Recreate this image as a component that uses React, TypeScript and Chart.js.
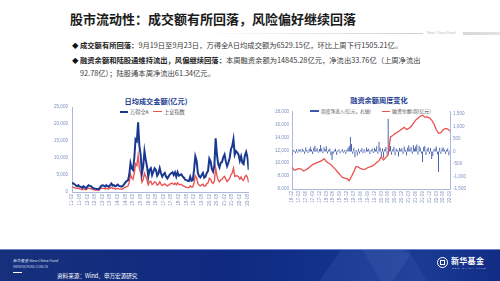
import React, { useEffect, useRef } from 'react';
import { Chart, registerables } from 'chart.js';
Chart.register(...registerables);

// ---------- Left chart: 日均成交金额(亿元), monthly 2011-02 .. 2022-09 ----------
const turnoverAllA = [
  2700, 2500, 2300, 1900, 1700, 2000, 1600, 1500, 1200, 1700, 1400,
  1100, 1600, 2000, 1800, 1700, 1300, 1100, 1000, 900, 900, 800, 1300,
  1800, 2000, 1900, 1600, 2000, 1700, 1500, 2000, 2500, 1900, 2000, 1700,
  1900, 2200, 1800, 1700, 1600, 1800, 2300, 2800, 3200, 3400, 5000, 8500,
  7000, 6500, 10000, 15500, 15000, 20500, 13500, 11000, 5500, 7500, 12000, 9500,
  7500, 4500, 6500, 7000, 5000, 6000, 7000, 6500, 4800, 5500, 7000, 5500,
  4500, 5200, 5600, 4500, 4000, 4600, 5200, 5500, 5800, 5000, 5800, 4500,
  5800, 4800, 5000, 5200, 4600, 4200, 3600, 3500, 3300, 3200, 4500, 3300,
  3500, 6500, 10500, 9200, 5600, 4600, 4300, 5000, 5600, 4200, 4500, 5600,
  6200, 9800, 9000, 6800, 6000, 7800, 15800, 11000, 8200, 7200, 8600, 8800,
  10200, 11000, 9000, 7600, 8600, 10000, 12500, 13500, 15500, 11000, 12000, 11600,
  11000, 9200, 10500, 8600, 8200, 10800, 11800, 10200, 6500,
];
const turnoverSH = [
  1500, 1400, 1300, 1100, 1000, 1150, 900, 850, 700, 950, 800,
  650, 950, 1150, 1000, 950, 750, 650, 600, 550, 550, 500, 900,
  1100, 1150, 1050, 900, 1100, 950, 850, 1100, 1400, 1050, 1100, 900,
  950, 1050, 900, 850, 800, 900, 1200, 1400, 1600, 1700, 2800, 5200,
  4200, 3700, 5600, 8300, 7800, 10800, 7000, 5600, 2900, 3700, 5500, 4600,
  3600, 2100, 3000, 3200, 2200, 2500, 3000, 2800, 2000, 2300, 3000, 2300,
  1900, 2200, 2400, 2000, 1800, 2000, 2300, 2500, 2600, 2200, 2600, 2100,
  2700, 2200, 2200, 2200, 1900, 1700, 1500, 1400, 1300, 1300, 1800, 1400,
  1500, 2800, 4800, 4200, 2500, 2000, 1800, 2100, 2300, 1700, 1800, 2400,
  2700, 4000, 3800, 2800, 2500, 3200, 7000, 4800, 3500, 3000, 3600, 3700,
  4300, 4600, 3800, 3100, 3500, 4000, 5000, 5600, 7000, 4600, 4800, 4700,
  4500, 3800, 4400, 3600, 3400, 4500, 4900, 4300, 2800,
];
const turnoverTicks = [
  '11-02', '11-08', '12-02', '12-08', '13-02', '13-08', '14-02', '14-08',
  '15-02', '15-08', '16-02', '16-08', '17-02', '17-08', '18-02', '18-08',
  '19-02', '19-08', '20-02', '20-08', '21-02', '21-08', '22-02', '22-08',
];
const turnoverYTicks = [0, 5000, 10000, 15000, 20000, 25000];
const TURNOVER_TICK_EVERY = 6; // months per tick label

// ---------- Right chart: 融资余额周度变化, 2016-12 .. 2022-09 ----------
const marginBalance = [
  9370, 8900, 9050, 9150, 9100, 8800, 8950, 9200, 9500, 9800,
  9950, 10100, 10250, 10400, 10700, 10250, 10000, 9800, 9400, 9050,
  8600, 8200, 7800, 7700, 7600, 7300, 7950, 8700, 9500, 9400,
  9150, 9050, 9100, 9300, 9450, 9550, 9800, 10100, 10400, 11000,
  10500, 10900, 11300, 14100, 14300, 14600, 14800, 15050, 15300, 15570,
  15250, 15400, 15700, 16200, 16700, 17000, 17300, 17450, 17150, 17200,
  17050, 16700, 16100, 15200, 14650, 14750, 15200, 15400, 15300, 15000,
];
const marginWeekly = [
  -150, 60, 40, -70, 90, -50, 70, 100, -30, 110, 50, -90,
  160, 60, -60, 100, 190, 80, -100, 150, 230, 70, 130, -50,
  100, 260, 120, -60, 170, 90, 210, -80, 70, 120, -150, -340,
  -90, 60, 110, -130, 40, 80, -70, 30, 90, -50, 60, -100,
  80, 150, 220, 590, 300, -90, 150, -230, 60, -160, 110, -80,
  50, 130, -70, 90, -40, 160, 70, 110, -100, 60, 120, -60,
  140, 80, 210, -90, 390, 150, -180, 120, -250, 100, 180, -120,
  1320, 160, 220, -130, 90, 190, -150, 120, 60, -200, 140, 80,
  130, -100, 200, 70, -160, 150, 250, 90, 180, -90, 260, 120,
  200, 280, -120, 230, 150, -80, -420, 180, 220, -140, 110, 160,
  -100, 140, -300, -180, 90, 120, 200, -120, -820, 150, -90, 120,
  170, 80, -100, 60, 120, -150, 40,
];
const marginTicks = [
  '16-12', '17-03', '17-06', '17-09', '17-12', '18-03', '18-06', '18-09',
  '18-12', '19-03', '19-06', '19-09', '19-12', '20-03', '20-06', '20-09',
  '20-12', '21-03', '21-06', '21-09', '21-12', '22-03', '22-06', '22-09',
];
const balanceYTicks = [6000, 8000, 10000, 12000, 14000, 16000, 18000];
const weeklyYTicks = [-1500, -1000, -500, 0, 500, 1000, 1500];
const MARGIN_TICK_EVERY = 3; // months per tick label
const WEEKLY_STEP = 0.5; // bars per half month

const tickFont = { family: '"Liberation Sans", Arial, sans-serif', size: 4.6 };
const tickColor = '#7d8fbe';
const axisColor = '#a9b8dc';
const fmt = (v: number) => Number(v).toLocaleString('en-US');
const setTicks = (vals: number[]) => (s: any) => { s.ticks = vals.map((value) => ({ value })); };

function TurnoverChart() {
  const ref = useRef<HTMLCanvasElement | null>(null);
  useEffect(() => {
    if (!ref.current) return;
    const chart = new Chart(ref.current, {
      type: 'line',
      data: {
        datasets: [
          {
            label: '万得全A',
            data: turnoverAllA.map((y, i) => ({ x: i, y })),
            borderColor: '#1a3890',
            borderWidth: 2,
            pointRadius: 0,
          },
          {
            label: '上证指数',
            data: turnoverSH.map((y, i) => ({ x: i, y })),
            borderColor: '#ec5556',
            borderWidth: 1.4,
            pointRadius: 0,
          },
        ],
      },
      options: {
        responsive: false,
        animation: false,
        layout: { padding: { top: 7, right: 5, left: 0, bottom: 0 } },
        plugins: { legend: { display: false }, tooltip: { enabled: false }, title: { display: false } },
        scales: {
          x: {
            type: 'linear',
            min: 0,
            max: turnoverAllA.length - 1,
            grid: { display: false, drawTicks: false },
            border: { display: true, color: axisColor, width: 1 },
            afterBuildTicks: setTicks(turnoverTicks.map((_, k) => k * TURNOVER_TICK_EVERY)),
            afterFit: (s: any) => { s.height = 18; },
            ticks: {
              autoSkip: false,
              minRotation: 90,
              maxRotation: 90,
              padding: 2,
              font: tickFont,
              color: tickColor,
              callback: (v: any) => turnoverTicks[Math.round(v / TURNOVER_TICK_EVERY)] ?? '',
            },
          },
          y: {
            min: 0,
            max: 25000,
            grid: { display: false, drawTicks: false },
            border: { display: true, color: axisColor, width: 1 },
            afterBuildTicks: setTicks(turnoverYTicks),
            afterFit: (s: any) => { s.width = 32; },
            ticks: { padding: 4, font: tickFont, color: tickColor, callback: (v: any) => fmt(v) },
          },
        },
      },
    } as any);
    return () => chart.destroy();
  }, []);
  return <canvas ref={ref} width={215} height={110} style={{ width: 215, height: 110, display: 'block' }} />;
}

function MarginChart() {
  const ref = useRef<HTMLCanvasElement | null>(null);
  useEffect(() => {
    if (!ref.current) return;
    const chart = new Chart(ref.current, {
      type: 'bar',
      data: {
        datasets: [
          {
            type: 'line',
            label: '融资余额(亿元)',
            data: marginBalance.map((y, i) => ({ x: i, y })),
            borderColor: '#e8514f',
            borderWidth: 1.3,
            pointRadius: 0,
            yAxisID: 'y',
            order: 0,
          },
          {
            type: 'bar',
            label: '周度净流入(亿元，右轴)',
            data: marginWeekly.map((y, i) => ({ x: i * WEEKLY_STEP, y })),
            backgroundColor: '#3b58a8',
            barPercentage: 0.8,
            categoryPercentage: 1,
            yAxisID: 'y1',
            order: 1,
          },
        ],
      },
      options: {
        responsive: false,
        animation: false,
        layout: { padding: { top: 11.7, right: 22, left: 0, bottom: 0 } },
        plugins: { legend: { display: false }, tooltip: { enabled: false }, title: { display: false } },
        scales: {
          x: {
            type: 'linear',
            offset: false,
            min: 0,
            max: marginBalance.length - 1,
            grid: { display: false, drawTicks: false },
            border: { display: true, color: axisColor, width: 1 },
            afterBuildTicks: setTicks(marginTicks.map((_, k) => k * MARGIN_TICK_EVERY)),
            afterFit: (s: any) => { s.height = 21; },
            ticks: {
              autoSkip: false,
              minRotation: 90,
              maxRotation: 90,
              padding: 2,
              font: tickFont,
              color: tickColor,
              callback: (v: any) => marginTicks[Math.round(v / MARGIN_TICK_EVERY)] ?? '',
            },
          },
          y: {
            position: 'left',
            min: 6000,
            max: 18000,
            grid: { display: false, drawTicks: false },
            border: { display: true, color: axisColor, width: 1 },
            afterBuildTicks: setTicks(balanceYTicks),
            afterFit: (s: any) => { s.width = 27; },
            ticks: { padding: 3, font: tickFont, color: tickColor, callback: (v: any) => fmt(v) },
          },
          y1: {
            position: 'right',
            min: -1500,
            max: 1600,
            grid: { display: false, drawTicks: false },
            border: { display: true, color: axisColor, width: 1 },
            afterBuildTicks: setTicks(weeklyYTicks),
            afterFit: (s: any) => { s.width = 18; },
            ticks: { padding: 3, font: tickFont, color: tickColor, callback: (v: any) => fmt(v) },
          },
        },
      },
    } as any);
    return () => chart.destroy();
  }, []);
  return <canvas ref={ref} width={225} height={110} style={{ width: 225, height: 110, display: 'block' }} />;
}

const cjk = '"Noto Sans CJK SC", "Noto Sans", sans-serif';

const abs = (left: number, top: number, extra: React.CSSProperties = {}): React.CSSProperties => ({
  position: 'absolute', left, top, ...extra,
});

export default function App() {
  const bodyText: React.CSSProperties = { fontSize: 7.3, color: '#3a3a3a', whiteSpace: 'nowrap', lineHeight: '10px', fontFamily: cjk };
  const legendText: React.CSSProperties = { fontSize: 5.2, color: '#555', whiteSpace: 'nowrap', lineHeight: '8px', fontFamily: cjk };
  return (
    <div style={{ position: 'fixed', left: 0, top: 0, width: 500, height: 281, background: '#fff', overflow: 'hidden', fontFamily: cjk }}>
      {/* Title */}
      <div style={abs(70, 10, { fontSize: 13, fontWeight: 700, color: '#1b1b1b', lineHeight: '18px', whiteSpace: 'nowrap' })}>
        股市流动性：成交额有所回落，风险偏好继续回落
      </div>
      {/* Title rule */}
      <div style={abs(200, 33, { width: 223, height: 1, background: 'linear-gradient(90deg, rgba(200,200,200,0), #cfcfcf)' })} />
      <div style={abs(427, 30.5, { fontSize: 3.8, color: '#bdbdbd', whiteSpace: 'nowrap', lineHeight: '5px', fontFamily: '"Liberation Sans", Arial' })}>New China Fund</div>
      <div style={abs(463, 32, { width: 37, height: 3, background: 'linear-gradient(90deg, #d6d6d6, #e4e4e4)' })} />

      {/* Bullets */}
      <div style={abs(72, 40, { fontSize: 6.5, lineHeight: '10px', color: '#111' })}>◆</div>
      <div style={abs(80, 40, bodyText)}>
        <b style={{ color: '#222' }}>成交额有所回落：</b>9月19日至9月23日，万得全A日均成交额为6529.15亿，环比上周下行1505.21亿。
      </div>
      <div style={abs(72, 54.5, { fontSize: 6.5, lineHeight: '10px', color: '#111' })}>◆</div>
      <div style={abs(80, 54.5, bodyText)}>
        <b style={{ color: '#222' }}>融资余额和陆股通维持流出，风偏继续回落：</b>本周融资余额为14845.28亿元，净流出33.76亿（上周净流出
      </div>
      <div style={abs(80, 68, bodyText)}>92.78亿）；陆股通本周净流出61.34亿元。</div>

      {/* Left chart */}
      <div style={abs(100, 95, { width: 112, textAlign: 'center', fontSize: 7.2, fontWeight: 700, color: '#1d3c8f', lineHeight: '12px', whiteSpace: 'nowrap' })}>
        日均成交金额(亿元)
      </div>
      <div style={abs(120, 111, { width: 8, height: 1.6, background: '#1a3890' })} />
      <div style={abs(130, 107.6, legendText)}>万得全A</div>
      <div style={abs(153, 111, { width: 9, height: 1.4, background: '#ec5556' })} />
      <div style={abs(164, 107.6, legendText)}>上证指数</div>
      <div style={abs(40, 100)}>
        <TurnoverChart />
      </div>

      {/* Right chart */}
      <div style={abs(329, 94, { width: 100, textAlign: 'center', fontSize: 7.2, fontWeight: 700, color: '#1d3c8f', lineHeight: '12px', whiteSpace: 'nowrap' })}>
        融资余额周度变化
      </div>
      <div style={abs(310, 110, { width: 9, height: 2.4, background: '#3b58a8' })} />
      <div style={abs(321, 107.4, { ...legendText, fontSize: 4.7 })}>周度净流入(亿元，右轴)</div>
      <div style={abs(381.5, 110.6, { width: 8.5, height: 1.3, background: '#e8514f' })} />
      <div style={abs(392, 107.4, { ...legendText, fontSize: 4.9 })}>融资余额:周(亿元)</div>
      <div style={abs(265, 100)}>
        <MarginChart />
      </div>

      {/* Footer */}
      <div style={abs(0, 249, { width: 500, height: 32, background: 'linear-gradient(90deg, #17307c 0%, #0f2a80 45%, #13338e 70%, #1a3a94 85%, #112c84 100%)', borderTop: '1px solid #6d84c8', boxSizing: 'border-box', overflow: 'hidden' })}>
        <div style={abs(330, -20, { width: 60, height: 90, background: 'rgba(120,150,220,0.12)', transform: 'rotate(35deg)' })} />
        <div style={abs(380, -20, { width: 40, height: 90, background: 'rgba(120,150,220,0.10)', transform: 'rotate(-30deg)' })} />
        <div style={abs(13, 8, { fontSize: 3.8, color: '#dfe6f7', whiteSpace: 'nowrap', lineHeight: '5px', fontStyle: 'italic' })}>新华基金 New China Fund</div>
        <div style={abs(13, 15, { fontSize: 3, color: '#c7d2ee', whiteSpace: 'nowrap', lineHeight: '4px', fontFamily: '"Liberation Sans", Arial' })}>WWW.NCFUND.COM.CN</div>
        <div style={abs(13, 21.5, { width: 9, height: 1, background: '#ffffff' })} />
        <div style={abs(57, 22.5, { fontSize: 5.6, color: '#ffffff', whiteSpace: 'nowrap', lineHeight: '7px' })}>资料来源：Wind、申万宏源研究</div>
        <div style={abs(437, 7, { width: 9, height: 9, border: '1.3px solid #fff', borderRadius: '50%' })}>
          <div style={abs(2.3, 2.3, { width: 4.4, height: 4.4, border: '1px solid #fff', boxSizing: 'border-box' })} />
        </div>
        <div style={abs(451, 6, { fontSize: 8, fontWeight: 700, color: '#ffffff', whiteSpace: 'nowrap', lineHeight: '10px', letterSpacing: 0.3 })}>新华基金</div>
        <div style={abs(452, 16.5, { fontSize: 2.4, color: '#c9d3ef', whiteSpace: 'nowrap', lineHeight: '3px', letterSpacing: 1, fontFamily: '"Liberation Sans", Arial' })}>NEW CHINA FUND</div>
      </div>
    </div>
  );
}
